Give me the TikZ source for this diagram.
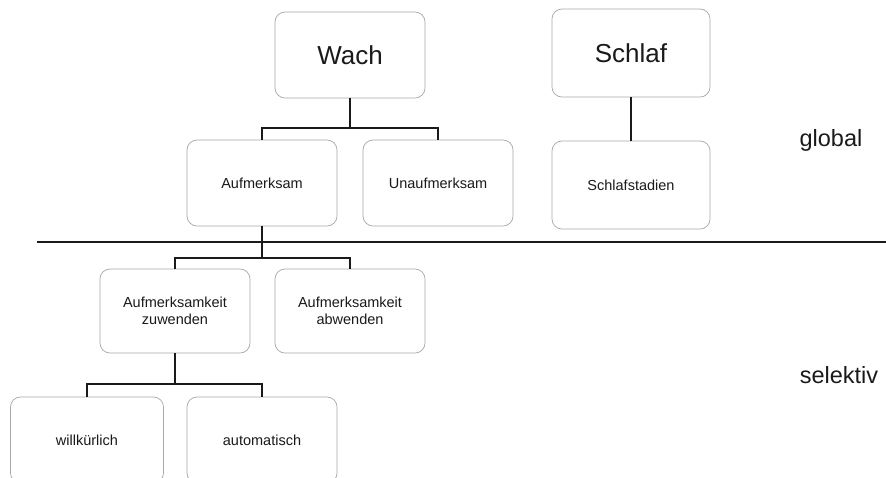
\documentclass[tikz,border=0pt]{standalone}
\usepackage{fontspec}
\setmainfont{Liberation Sans}
\usepackage{xcolor}
\usetikzlibrary{positioning}
\definecolor{treeInk}{HTML}{1A1A1A}
\definecolor{treeFrame}{HTML}{A8A8A8}
\tikzset{
    tree/box/.style={
        rectangle, rounded corners=3.5mm,
        draw=treeFrame, fill=white, text=treeInk, line width=0.7pt,
        align=center, inner sep=2pt,
        minimum width=150pt, minimum height=86pt
    },
    tree/big box/.style={
        tree/box, font=\fontsize{26}{30}\selectfont
    },
    tree/small box/.style={
        tree/box, font=\fontsize{14.5}{17}\selectfont
    },
    tree/line/.style={
        draw=treeInk, line width=1.4pt
    },
    tree/level label/.style={
        font=\fontsize{23.5}{28}\selectfont, text=treeInk, inner sep=0pt
    }
}

\begin{document}
\begin{tikzpicture}[x=1pt,y=-1pt]
    \useasboundingbox (0,0) rectangle (886,477);

    \node[tree/big box] (wach) at (350,55) {Wach};
    \node[tree/small box] (aufmerksam) at (262,183) {Aufmerksam};
    \node[tree/small box] (unaufmerksam) at (438,183) {Unaufmerksam};
    \node[tree/big box, minimum width=158pt, minimum height=88pt] (schlaf) at (631,53) {Schlaf};
    \node[tree/small box, minimum width=158pt, minimum height=88pt] (schlafstadien) at (631,185) {Schlafstadien};
    \node[tree/level label] (global) at (831,140) {global};

    \coordinate (grenzelinks) at (37,242);
    \coordinate (grenzerechts) at (886,242);

    \node[tree/small box, minimum height=84pt] (zuwenden) at (175,311)
        {Aufmerksamkeit\\zuwenden};
    \node[tree/small box, minimum height=84pt] (abwenden) at (350,311)
        {Aufmerksamkeit\\abwenden};
    \node[tree/level label] (selektiv) at (839,375) {selektiv};

    \node[tree/small box, minimum width=153pt] (willkuerlich) at (87,440) {willkürlich};
    \node[tree/small box] (automatisch) at (262,440) {automatisch};

    \coordinate (wachjoin) at (350,128);
    \coordinate (aufmerksamjoin) at (262,258);
    \coordinate (zuwendenjoin) at (175,384);

    \draw[tree/line] (wach.south) -- (wachjoin);
    \draw[tree/line] (aufmerksam.north) |- (wachjoin) -| (unaufmerksam.north);
    \draw[tree/line] (schlaf.south) -- (schlafstadien.north);
    \draw[tree/line] (grenzelinks) -- (grenzerechts);
    \draw[tree/line] (aufmerksam.south) -- (aufmerksamjoin);
    \draw[tree/line] (zuwenden.north) |- (aufmerksamjoin) -| (abwenden.north);
    \draw[tree/line] (zuwenden.south) -- (zuwendenjoin);
    \draw[tree/line] (willkuerlich.north) |- (zuwendenjoin) -| (automatisch.north);
\end{tikzpicture}
\end{document}
